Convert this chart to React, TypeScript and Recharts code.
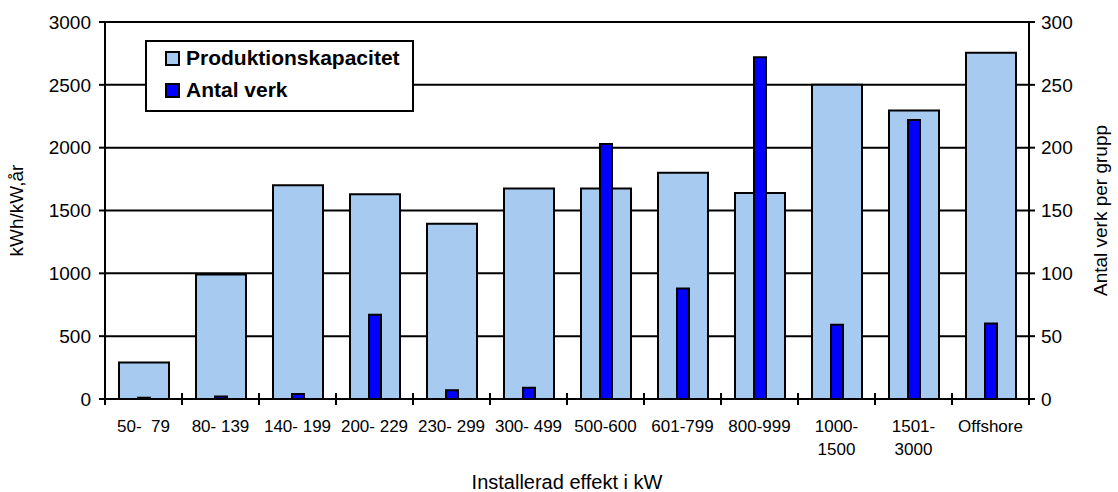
import { BarChart, Bar, XAxis, YAxis, CartesianGrid, Legend } from "recharts";

const categories = [
  "50-  79",
  "80- 139",
  "140- 199",
  "200- 229",
  "230- 299",
  "300- 499",
  "500-600",
  "601-799",
  "800-999",
  "1000-\n1500",
  "1501-\n3000",
  "Offshore",
];
const produktion = [290, 990, 1700, 1630, 1395, 1675, 1675, 1800, 1640, 2500, 2295, 2755];
const antal = [1, 2, 4, 67, 7, 9, 203, 88, 272, 59, 222, 60];
const leftTicks = [0, 500, 1000, 1500, 2000, 2500, 3000];
const rightTicks = [0, 50, 100, 150, 200, 250, 300];
const seriesOrder = ["Produktionskapacitet", "Antal verk"];

const data = categories.map((name, i) => ({
  name,
  produktion: produktion[i],
  antal: antal[i],
}));

const FONT = "'Liberation Sans', Arial, sans-serif";
const LIGHT = "#a6caf0";
const DARK = "#0000ff";

const W = 1118;
const H = 492;
const TOP = 22;
const LEFT_W = 105;
const RIGHT_W = 89;
const X_H = 93;
const BAND = (W - LEFT_W - RIGHT_W) / categories.length;

function CategoryTick(props: any) {
  const { x, y, payload } = props;
  const lines = String(payload.value).split("\n");
  return (
    <text
      x={x}
      y={y}
      textAnchor="middle"
      fontFamily={FONT}
      fontSize={17}
      fill="#000"
      style={{ whiteSpace: "pre" }}
    >
      {lines.map((l, i) => (
        <tspan key={i} x={x} dy={i === 0 ? 20 : 23}>
          {l}
        </tspan>
      ))}
    </text>
  );
}

// separator ticks between categories, crossing the x axis line
function Separators() {
  const axisY = H - X_H;
  return (
    <svg
      width={W}
      height={H}
      style={{ position: "absolute", left: 0, top: 0, pointerEvents: "none" }}
    >
      {[...categories, "end"].map((c, i) => {
        const x = LEFT_W + i * BAND;
        return (
          <line key={c} x1={x} x2={x} y1={axisY - 6} y2={axisY + 6} stroke="#000" strokeWidth={2} />
        );
      })}
    </svg>
  );
}

function LegendBox(props: any) {
  const items = [...(props.payload || [])].sort(
    (p: any, q: any) => seriesOrder.indexOf(p.value) - seriesOrder.indexOf(q.value)
  );
  return (
    <div
      style={{
        width: 265,
        height: 68,
        border: "2px solid #000",
        background: "#fff",
        fontFamily: FONT,
        fontWeight: "bold",
        fontSize: 21,
        boxSizing: "content-box",
      }}
    >
      {items.map((it: any) => (
        <div
          key={it.value}
          style={{ display: "flex", alignItems: "center", height: 32, paddingLeft: 18 }}
        >
          <span
            style={{
              display: "inline-block",
              width: 11,
              height: 11,
              border: "2px solid #000",
              background: it.color,
              marginRight: 6,
            }}
          />
          {it.value}
        </div>
      ))}
    </div>
  );
}

export default function App() {
  return (
    <div style={{ position: "absolute", left: 0, top: 0, width: W, height: H }}>
      <BarChart
        width={W}
        height={H}
        data={data}
        margin={{ top: TOP, right: 0, left: 0, bottom: 0 }}
      >
        <CartesianGrid
          xAxisId="b"
          yAxisId="left"
          vertical={false}
          stroke="#000"
          strokeWidth={2}
        />
        <XAxis
          xAxisId="b"
          dataKey="name"
          height={X_H}
          interval={0}
          tickLine={false}
          tickSize={0}
          tickMargin={13}
          axisLine={{ stroke: "#000", strokeWidth: 2 }}
          tick={<CategoryTick />}
          label={{
            value: "Installerad effekt i kW",
            position: "insideBottom",
            offset: 3,
            style: { fontFamily: FONT, fontSize: 20, fill: "#000" },
          }}
        />
        <XAxis xAxisId="c" dataKey="name" hide />
        <YAxis
          yAxisId="left"
          width={LEFT_W}
          domain={[0, 3000]}
          ticks={leftTicks}
          interval={0}
          axisLine={{ stroke: "#000", strokeWidth: 2 }}
          tickLine={{ stroke: "#000", strokeWidth: 2 }}
          tickSize={6}
          tickMargin={8}
          tick={{ fontFamily: FONT, fontSize: 19, fill: "#000" }}
          label={{
            value: "kWh/kW,år",
            angle: -90,
            position: "insideLeft",
            offset: 16,
            style: { fontFamily: FONT, fontSize: 19, fill: "#000", textAnchor: "middle" },
          }}
        />
        <YAxis
          yAxisId="right"
          orientation="right"
          width={RIGHT_W}
          domain={[0, 300]}
          ticks={rightTicks}
          interval={0}
          axisLine={{ stroke: "#000", strokeWidth: 2 }}
          tickLine={{ stroke: "#000", strokeWidth: 2 }}
          tickSize={6}
          tickMargin={6}
          tick={{ fontFamily: FONT, fontSize: 19, fill: "#000" }}
          label={{
            value: "Antal verk per grupp",
            angle: -90,
            position: "insideRight",
            offset: 18,
            style: { fontFamily: FONT, fontSize: 19, fill: "#000", textAnchor: "middle" },
          }}
        />
        <Legend
          layout="horizontal"
          verticalAlign="middle"
          align="center"
          content={<LegendBox />}
          wrapperStyle={{ position: "absolute", left: 145, top: 40, width: "auto", height: "auto" }}
        />
        <Bar
          name="Produktionskapacitet"
          dataKey="produktion"
          xAxisId="b"
          yAxisId="left"
          fill={LIGHT}
          stroke="#000"
          strokeWidth={2}
          barSize={50}
          isAnimationActive={false}
        />
        <Bar
          name="Antal verk"
          dataKey="antal"
          xAxisId="c"
          yAxisId="right"
          fill={DARK}
          stroke="#000"
          strokeWidth={2}
          barSize={12}
          isAnimationActive={false}
        />
      </BarChart>
      <Separators />
    </div>
  );
}
